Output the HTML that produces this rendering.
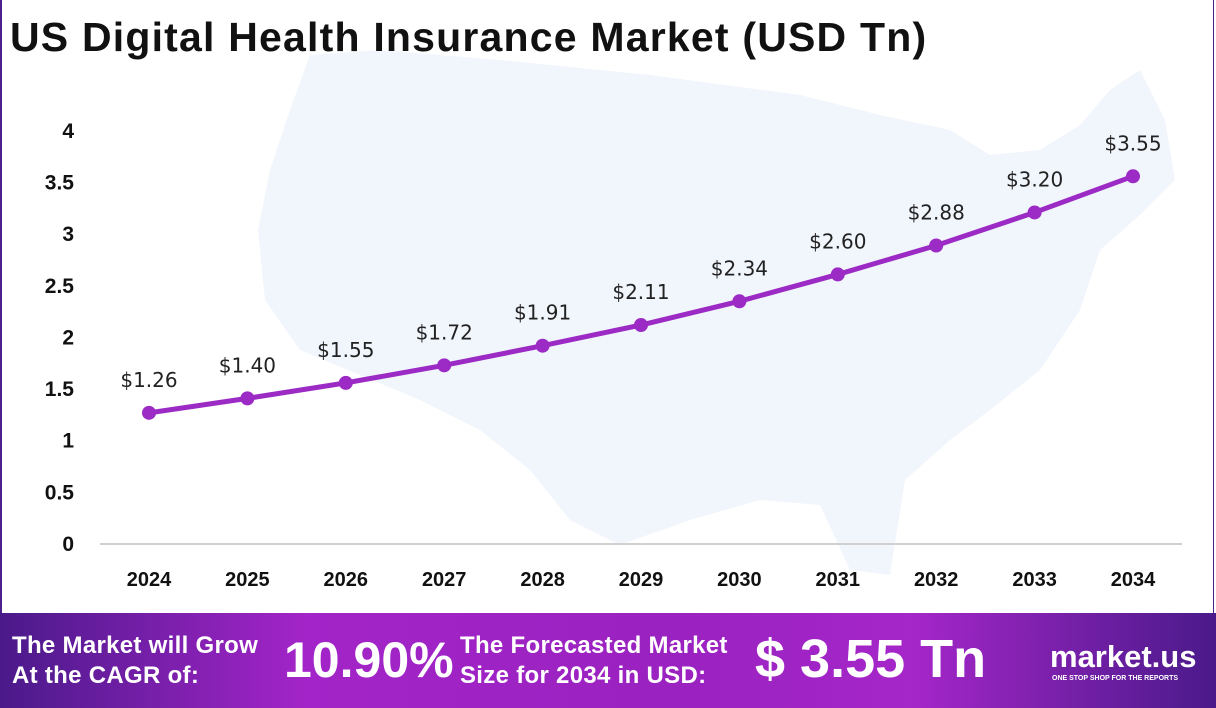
<!DOCTYPE html>
<html><head><meta charset="utf-8"><style>
body{margin:0;width:1216px;height:708px;overflow:hidden;background:#fff;font-family:"Liberation Sans",sans-serif;position:relative}
#frame{position:absolute;left:0;top:0;width:1214px;height:613px;border-left:2px solid #4b1f8c;border-right:1px solid #4b1f8c;box-sizing:border-box}
h1{position:absolute;left:10px;top:14px;margin:0;font-size:41px;font-weight:bold;color:#111;letter-spacing:1.2px;white-space:nowrap;z-index:2}
#footer{position:absolute;left:0;top:613px;width:1216px;height:95px;background:linear-gradient(90deg,#4a1a8a 0%,#a324c8 25%,#9a22c0 55%,#a526c9 75%,#4a1a8a 100%);color:#fff;font-weight:bold}
.ft{position:absolute;font-size:24px;line-height:30px;letter-spacing:0.3px}
.big{position:absolute;font-size:50px;top:18px}
</style></head><body>
<div id="frame"></div>
<svg id="chart" width="1216" height="613" style="position:absolute;left:0;top:0">
<path fill="#f1f5fc" d="M310,55 L290,110 L270,170 L258,230 L265,300 L300,350 L360,375 L420,400 L480,430 L530,470 L570,520 L620,545 L690,520 L760,500 L820,505 L850,570 L890,575 L905,480 L950,440 L990,410 L1040,370 L1080,310 L1100,250 L1140,215 L1175,180 L1165,120 L1140,70 L1110,90 L1080,125 L1040,150 L990,155 L950,130 L880,115 L800,95 L650,75 L500,60 L380,50 Z"/>
</svg>
<h1>US Digital Health Insurance Market (USD Tn)</h1>
<div id="footer">
<div class="ft" style="left:12px;top:18px">The Market will Grow<br>At the CAGR of:</div>
<div class="big" style="left:284px">10.90%</div>
<div class="ft" style="left:460px;top:18px">The Forecasted Market<br>Size for 2034 in USD:</div>
<div class="big" style="left:755px;font-size:54px;top:15px">$ 3.55 Tn</div>
<div style="position:absolute;left:1050px;top:26px;font-size:31px">market.us</div>
<div style="position:absolute;left:1052px;top:62px;font-size:7px">ONE STOP SHOP FOR THE REPORTS</div>
</div>
<script>
const years=["2024","2025","2026","2027","2028","2029","2030","2031","2032","2033","2034"];
const values=[1.26,1.40,1.55,1.72,1.91,2.11,2.34,2.60,2.88,3.20,3.55];
const labels=["$1.26","$1.40","$1.55","$1.72","$1.91","$2.11","$2.34","$2.60","$2.88","$3.20","$3.55"];
const yTicks=[0,0.5,1,1.5,2,2.5,3,3.5,4];
const svg=document.getElementById('chart');const NS="http://www.w3.org/2000/svg";
const x=i=>149+i*98.4;const y=v=>543-v*103.3;
function mk(t,a){const e=document.createElementNS(NS,t);for(const k in a)e.setAttribute(k,a[k]);svg.appendChild(e);return e;}
const ax=mk('line',{x1:100,x2:1182,y1:544,y2:544,stroke:'#d0d0d0','stroke-width':2});


yTicks.forEach(v=>{const t=mk('text',{x:74,y:y(v)+8,'text-anchor':'end','font-size':21,'font-weight':'bold',fill:'#111','font-family':'Liberation Sans'});t.textContent=v;

});
years.forEach((yr,i)=>{const t=mk('text',{x:x(i),y:586,'text-anchor':'middle','font-size':20,'font-weight':'bold',fill:'#111','font-family':'Liberation Sans'});t.textContent=yr;

});
const ln=mk('polyline',{points:values.map((v,i)=>x(i)+','+y(v)).join(' '),fill:'none',stroke:'#9b2bc4','stroke-width':5,'stroke-linejoin':'round'});


values.forEach((v,i)=>{const c=mk('circle',{cx:x(i),cy:y(v),r:7,fill:'#9b2bc4'});


const t=mk('text',{x:x(i),y:y(v)-26,'text-anchor':'middle','font-size':20,fill:'#222','font-family':'DejaVu Sans'});t.textContent=labels[i];

});
</script>
</body></html>
